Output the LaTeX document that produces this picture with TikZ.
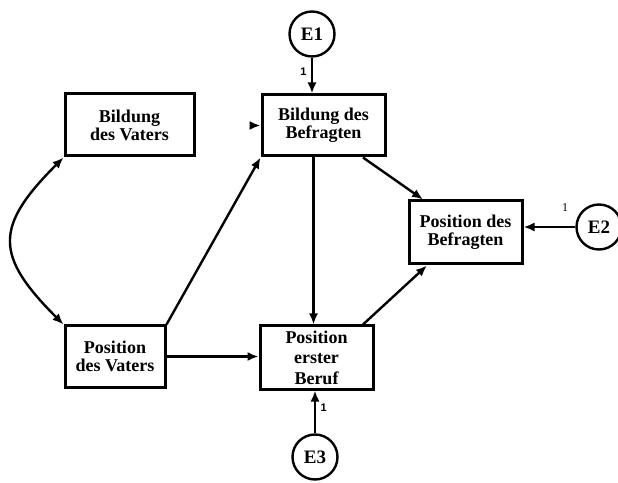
\documentclass[tikz,border=0pt]{standalone}
\usepackage{fontspec}
\usetikzlibrary{arrows.meta}
\setmainfont{Liberation Serif}
\newfontfamily\labelfont{Liberation Sans}
\begin{document}
\begin{tikzpicture}[x=1pt,y=1pt,
	var/.style={draw,line width=3pt,align=center,inner sep=0pt,font=\bfseries\fontsize{18}{18}\selectfont},
	err/.style={draw,circle,line width=2.4pt,minimum size=45pt,inner sep=0pt,font=\bfseries\fontsize{19}{19}\selectfont},
	path/.style={line width=2.4pt,-{Latex[length=11pt,width=9pt]}}]
	\useasboundingbox (0,0) rectangle (618,482);
	\node[var,minimum width=129pt,minimum height=62pt] (bv) at (129.5,357) {Bildung\\des Vaters};
	\node[var,minimum width=100pt,minimum height=61pt] (pv) at (115,125.5) {Position\\des Vaters};
	\node[var,minimum width=123pt,minimum height=61pt] (bb) at (323.5,356.5) {Bildung des\\Befragten};
	\node[var,minimum width=113pt,minimum height=63pt,font=\bfseries\fontsize{18}{20.5}\selectfont] (pe) at (316.5,124.5) {Position\\erster\\Beruf};
	\node[var,minimum width=113pt,minimum height=63pt] (pb) at (465.5,249.5) {Position des\\Befragten};
	\node[err] (e1) at (312,448) {E1};
	\node[err] (e3) at (315,25) {E3};
	\node[err] (e2) at (599,255) {E2};
	\coordinate (stub) at (250,356.5);
	\draw[path,{Latex[length=11pt,width=9pt]}-{Latex[length=11pt,width=9pt]}] (bv.south west) to[out=-135,in=135,looseness=1.5] (pv.north west);
	\draw[path] (pv.north east)--(bb.south west);
	\draw[path] (pv.east)--(pv.east -| pe.west);
	\draw[path] ([xshift=-10pt]bb.south)--([xshift=-10pt]bb.south |- pe.north);
	\draw[path] ([xshift=39.5pt]bb.south)--([xshift=-42.5pt]pb.north);
	\draw[path] ([xshift=46.5pt]pe.north)--([xshift=-38.5pt]pb.south);
	\draw[path] (stub)--(stub -| bb.west);
	\draw[path] (e1.south)--(e1.south |- bb.north)
	node[pos=.4,left=1pt,font=\labelfont\bfseries\fontsize{11}{11}\selectfont] {1};
	\draw[path] (e3.north)--(e3.north |- pe.south)
	node[pos=.6,right=1pt,font=\labelfont\bfseries\fontsize{11}{11}\selectfont] {1};
	\draw[path] (e2.west)--(e2.west -| pb.east);
	\node[font=\fontsize{12}{12}\selectfont] (one) at (565,274) {1};
\end{tikzpicture}
\end{document}
